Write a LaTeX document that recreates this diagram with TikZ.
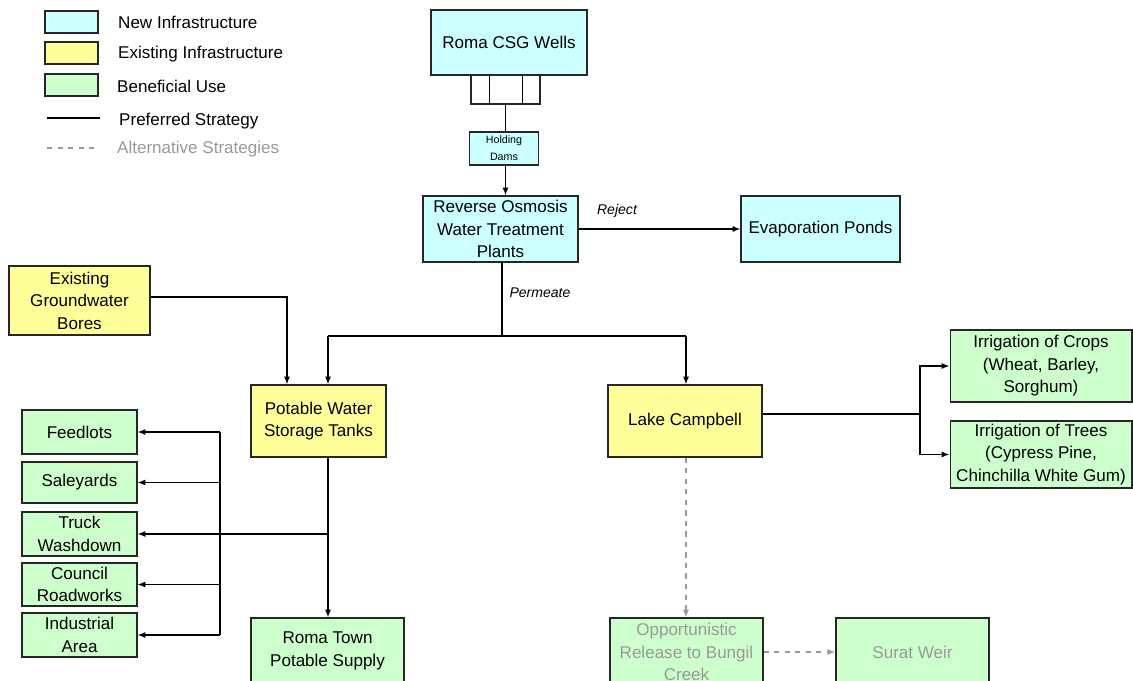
\documentclass[tikz,border=0pt]{standalone}
\usepackage{fontspec}
\setmainfont{Liberation Sans}
\usepackage{tikz}
\usetikzlibrary{arrows.meta}
\definecolor{newinf}{HTML}{CCFFFF}
\definecolor{exinf}{HTML}{FFFF99}
\definecolor{benuse}{HTML}{CCFFCC}
\definecolor{altgray}{HTML}{999999}
\newcommand{\boxfont}{\fontsize{9.7}{12.8}\selectfont}

\begin{document}
\begin{tikzpicture}[x=0.02cm, y=-0.02cm,
		box/.style={draw=black!85, line width=0.6pt, align=center, inner sep=1pt, font=\boxfont},
		newbox/.style={box, fill=newinf},
		exbox/.style={box, fill=exinf},
		usebox/.style={box, fill=benuse},
		arr/.style={line width=0.8pt, -{Latex[length=4.5pt,width=3.5pt]}},
		alt/.style={altgray, dashed, line width=0.8pt, -{Latex[length=4.5pt,width=3.5pt]}},
		lbl/.style={font=\fontsize{8}{9.6}\selectfont\itshape}]
		% 0. 画布大小与裁剪
		\useasboundingbox (0,0) rectangle (1133,680);
		\clip (0,0) rectangle (1133,680);
		
		% 1. 图例
		\node[newbox, minimum width=1.06cm, minimum height=0.44cm] (lgNew) at (71.5,22) {};
		\node[exbox, minimum width=1.06cm, minimum height=0.44cm] (lgEx) at (71.5,53) {};
		\node[usebox, minimum width=1.06cm, minimum height=0.44cm] (lgUse) at (71.5,85) {};
		\node[anchor=west, font=\boxfont] (tNew) at (112,22) {New Infrastructure};
		\node[anchor=west, font=\boxfont] (tEx) at (112,54) {Existing Infrastructure};
		\node[anchor=west, font=\boxfont] (tUse) at (111,86) {Beneficial Use};
		\coordinate (pa) at (47,118); \coordinate (pb) at (100,118);
		\draw[line width=0.8pt] (pa) -- (pb);
		\node[anchor=west, font=\boxfont] (tPref) at (113,121) {Preferred Strategy};
		\coordinate (qa) at (47,148); \coordinate (qb) at (97,148);
		\draw[altgray, dashed, line width=0.6pt] (qa) -- (qb);
		\node[anchor=west, font=\boxfont, text=altgray] (tAlt) at (111,149) {Alternative Strategies};
		
		% 2. 气井、储水坝、反渗透厂
		\node[newbox, minimum width=3.12cm, minimum height=1.3cm] (wells) at (509,42.5) {Roma CSG Wells};
		\node[draw=black!85, line width=0.6pt, fill=white, minimum width=1.38cm, minimum height=0.58cm] (pipes) at (505.5,89.5) {};
		\draw[line width=0.6pt] (pipes.north west) ++(19,0) -- ++(0,29);
		\draw[line width=0.6pt] (pipes.north west) ++(52,0) -- ++(0,29);
		\node[newbox, minimum width=1.38cm, minimum height=0.66cm, font=\fontsize{6.1}{9.5}\selectfont] (hold) at (504,148.5) {Holding\\Dams};
		\node[newbox, minimum width=3.1cm, minimum height=1.32cm] (ro) at (500.5,229) {Reverse Osmosis\\Water Treatment\\Plants};
		\node[newbox, minimum width=3.18cm, minimum height=1.32cm] (evap) at (820.5,229) {Evaporation Ponds};
		
		\draw[line width=0.8pt] (pipes.south) -- (pipes.south |- hold.north);
		\draw[arr] (hold.south -| pipes.south) -- (ro.north -| pipes.south);
		\draw[arr] (ro.east) -- (evap.west);
		\node[lbl] (reject) at (617,211) {Reject};
		
		% 3. 产水分配
		\coordinate (split) at (502,336);
		\coordinate (pL) at (328,336);
		\coordinate (pR) at (686,336);
		\draw[line width=0.8pt] (ro.south -| split) -- (split);
		\node[lbl] (permeate) at (540,293) {Permeate};
		\draw[line width=0.8pt] (pL) -- (pR);
		
		\node[exbox, minimum width=2.82cm, minimum height=1.38cm] (bores) at (79.5,300.5) {Existing\\Groundwater\\Bores};
		\node[exbox, minimum width=2.7cm, minimum height=1.44cm] (tanks) at (318.5,421) {Potable Water\\Storage Tanks};
		\node[exbox, minimum width=3.08cm, minimum height=1.44cm] (lake) at (685,421) {Lake Campbell};
		
		\draw[arr] (pL) -- (pL |- tanks.north);
		\draw[arr] (pR) -- (pR |- lake.north);
		\coordinate (bx) at (287,297);
		\draw[arr] (bores.east |- bx) -| (tanks.north -| bx);
		
		% 4. 储水罐下游用户
		\node[usebox, minimum width=2.3cm, minimum height=0.88cm] (feed) at (79.5,432) {Feedlots};
		\node[usebox, minimum width=2.3cm, minimum height=0.82cm] (sale) at (79.5,482.5) {Saleyards};
		\node[usebox, minimum width=2.3cm, minimum height=0.88cm] (truck) at (79.5,534) {Truck\\Washdown};
		\node[usebox, minimum width=2.3cm, minimum height=0.86cm] (council) at (79.5,584.5) {Council\\Roadworks};
		\node[usebox, minimum width=2.3cm, minimum height=0.88cm] (ind) at (79.5,635) {Industrial\\Area};
		\node[usebox, minimum width=3.06cm, minimum height=1.32cm] (town) at (327.5,651) {Roma Town\\Potable Supply};
		
		\coordinate (tx) at (328,457);
		\draw[arr] (tx) -- (town.north -| tx);
		\draw[arr] (tx |- truck.east) -- (truck.east);
		\coordinate (bus) at (220,430);
		\draw[line width=0.8pt] (bus |- feed.east) -- (bus |- ind.east);
		\foreach \n in {feed,sale,council,ind}
		\draw[arr] (bus |- \n.east) -- (\n.east);
		
		% 5. 湖泊下游灌溉
		\node[usebox, minimum width=3.64cm, minimum height=1.44cm] (crops) at (1041,366) {Irrigation of Crops\\(Wheat, Barley,\\Sorghum)};
		\node[usebox, minimum width=3.64cm, minimum height=1.34cm] (trees) at (1041,454.5) {Irrigation of Trees\\(Cypress Pine,\\Chinchilla White Gum)};
		\coordinate (ix) at (920,414);
		\draw[line width=0.8pt] (lake.east |- ix) -- (ix);
		\draw[arr] (ix) |- (crops.west);
		\draw[arr] (ix) |- (trees.west);
		
		% 6. 备选方案 (灰色虚线)
		\node[usebox, minimum width=3.06cm, minimum height=1.36cm, text=altgray] (release) at (686.5,652) {Opportunistic\\Release to Bungil\\Creek};
		\node[usebox, minimum width=3.06cm, minimum height=1.36cm, text=altgray] (surat) at (912.5,652) {Surat Weir};
		\draw[alt] (lake.south -| pR) -- (release.north -| pR);
		\draw[alt] (release.east) -- (surat.west);
		
	\end{tikzpicture}
\end{document}
